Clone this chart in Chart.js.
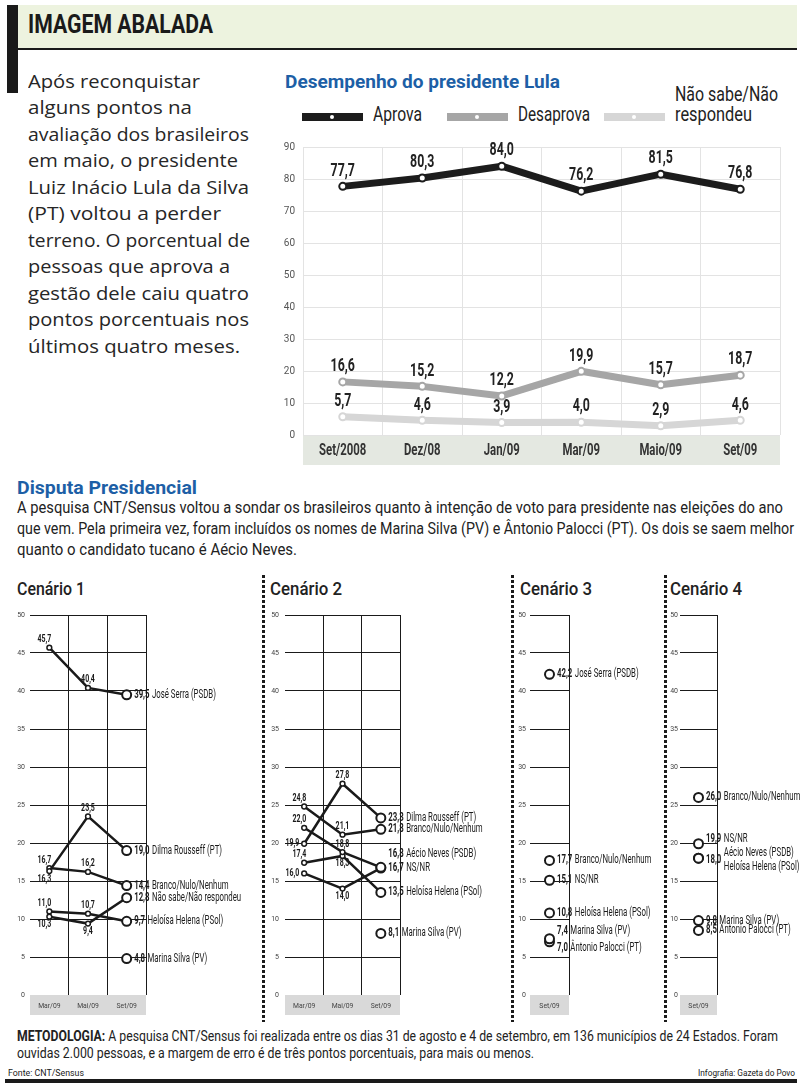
<!DOCTYPE html>
<html lang="pt-BR">
<head>
<meta charset="utf-8">
<title>Imagem abalada</title>
<script src="https://cdn.jsdelivr.net/npm/chart.js@4.4.1/dist/chart.umd.min.js"></script>
<style>
  body {
    margin: 0; width: 802px; height: 1085px; position: relative; overflow: hidden;
    background: #fff; color: #1a1a1a; font-family: Roboto, sans-serif;
  }
  .abs { position: absolute; white-space: nowrap; }
  .fit { display: inline-block; white-space: nowrap; transform-origin: 0 0; }
  .ln { display: block; }
  #header { position: absolute; left: 18px; top: 5px; width: 779px; height: 43px; background: #edf3df; border-bottom: 2px solid #1a1a1a; }
  #bar { left: 7px; top: 5px; width: 11px; height: 88px; background: #1a1a1a; }
  #headTitle { left: 10px; top: 7px; font-size: 25px; line-height: 25px; font-weight: bold; }
  #intro { left: 28px; top: 67.7px; font-family: "Open Sans", sans-serif; font-size: 19px; line-height: 26.5px; color: #262626; }
  .blue { color: #1d5fa6; font-weight: bold; }
  #lulaTitle { left: 285px; top: 72.7px; font-size: 18.5px; line-height: 18.5px; }
  .leg-line { position: absolute; height: 8px; width: 61px; }
  .leg-text { position: absolute; font-size: 19.5px; line-height: 20px; color: #222; }
  .box { position: absolute; }
  #dispTitle { left: 17px; top: 480.3px; font-size: 17.5px; line-height: 17.5px; }
  #dispText { left: 17px; top: 497px; font-size: 16px; line-height: 21px; color: #222; }
  .cen { position: absolute; top: 579px; font-size: 19px; line-height: 19px; font-weight: 500; color: #222; }
  .sep { position: absolute; top: 575px; width: 3px; height: 447px;
         background: repeating-linear-gradient(to bottom, #1a1a1a 0 3px, transparent 3px 5px); }
  #metodo { left: 17px; top: 1028.4px; font-size: 15px; line-height: 17px; color: #222; }
  #fonte { left: 8px; top: 1067.7px; font-size: 9.5px; line-height: 10px; }
  #infog { left: 698px; top: 1067.7px; font-size: 9.5px; line-height: 10px; }
  #rule { left: 5px; top: 1079px; width: 792px; height: 4px; background: #1a1a1a; }
</style>
</head>
<body>

<div id="bar" class="abs"></div>
<div id="header"><div id="headTitle" class="abs"><span class="fit" data-w="185">IMAGEM ABALADA</span></div></div>

<div id="intro" class="abs"></div>

<div id="lulaTitle" class="abs blue"><span class="fit" data-w="275">Desempenho do presidente Lula</span></div>
<div id="legend"></div>

<div class="box" style="left:270px; top:125px; width:520px; height:345px;"><canvas id="lulaChart"></canvas></div>

<div id="dispTitle" class="abs blue"><span class="fit" data-w="180">Disputa Presidencial</span></div>
<div id="dispText" class="abs">
  <span class="ln"><span class="fit" data-w="766">A pesquisa CNT/Sensus voltou a sondar os brasileiros quanto à intenção de voto para presidente nas eleições do ano</span></span>
  <span class="ln"><span class="fit" data-w="777">que vem. Pela primeira vez, foram incluídos os nomes de Marina Silva (PV) e Ântonio Palocci (PT). Os dois se saem melhor</span></span>
  <span class="ln"><span class="fit" data-w="280">quanto o candidato tucano é Aécio Neves.</span></span>
</div>

<div class="cen" style="left:17px;"><span class="fit" data-w="68">Cenário 1</span></div>
<div class="cen" style="left:270px;"><span class="fit" data-w="72">Cenário 2</span></div>
<div class="cen" style="left:520px;"><span class="fit" data-w="72">Cenário 3</span></div>
<div class="cen" style="left:670px;"><span class="fit" data-w="72">Cenário 4</span></div>
<div class="sep" style="left:262px;"></div>
<div class="sep" style="left:511px;"></div>
<div class="sep" style="left:664px;"></div>

<div class="box" style="left:0px; top:600px; width:262px; height:420px;"><canvas id="cen1"></canvas></div>
<div class="box" style="left:264px; top:600px; width:248px; height:420px;"><canvas id="cen2"></canvas></div>
<div class="box" style="left:514px; top:600px; width:150px; height:420px;"><canvas id="cen3"></canvas></div>
<div class="box" style="left:667px; top:600px; width:135px; height:420px;"><canvas id="cen4"></canvas></div>

<div id="metodo" class="abs">
  <span class="ln"><span class="fit" data-w="761"><b>METODOLOGIA:</b> A pesquisa CNT/Sensus foi realizada entre os dias 31 de agosto e 4 de setembro, em 136 municípios de 24 Estados. Foram</span></span>
  <span class="ln"><span class="fit" data-w="517">ouvidas 2.000 pessoas, e a margem de erro é de três pontos porcentuais, para mais ou menos.</span></span>
</div>
<div id="fonte" class="abs"><span class="fit" data-w="76">Fonte: CNT/Sensus</span></div>
<div id="infog" class="abs"><span class="fit" data-w="97">Infografia: Gazeta do Povo</span></div>
<div id="rule" class="abs"></div>

<script>
/* ================= DATA ================= */
const lulaMonths = ["Set/2008", "Dez/08", "Jan/09", "Mar/09", "Maio/09", "Set/09"];
const aprova     = [77.7, 80.3, 84.0, 76.2, 81.5, 76.8];
const desaprova  = [16.6, 15.2, 12.2, 19.9, 15.7, 18.7];
const naoSabe    = [5.7, 4.6, 3.9, 4.0, 2.9, 4.6];
const lulaSeries = ["Aprova", "Desaprova", "Não sabe/Não respondeu"];

const disputaMonths = ["Mar/09", "Mai/09", "Set/09"];
const ultimoMes     = ["Set/09"];

// Cenário 1
const cen1Names = ["José Serra (PSDB)", "Dilma Rousseff (PT)", "Branco/Nulo/Nenhum", "Não sabe/Não respondeu", "Heloísa Helena (PSol)", "Marina Silva (PV)"];
const serra1   = [45.7, 40.4, 39.5];
const dilma1   = [16.3, 23.5, 19.0];
const branco1  = [16.7, 16.2, 14.4];
const nsnr1    = [10.3, 9.4, 12.8];
const heloisa1 = [11.0, 10.7, 9.7];
const marina1  = [null, null, 4.8];

// Cenário 2
const cen2Names = ["Dilma Rousseff (PT)", "Branco/Nulo/Nenhum", "Aécio Neves (PSDB)", "Heloísa Helena (PSol)", "NS/NR", "Marina Silva (PV)"];
const dilma2   = [19.9, 27.8, 23.3];
const branco2  = [24.8, 21.1, 21.8];
const aecio2   = [22.0, 18.8, 16.8];
const heloisa2 = [17.4, 18.3, 13.5];
const nsnr2    = [16.0, 14.0, 16.7];
const marina2  = [null, null, 8.1];

// Cenário 3
const cen3Names  = ["José Serra (PSDB)", "Branco/Nulo/Nenhum", "NS/NR", "Heloísa Helena (PSol)", "Marina Silva (PV)", "Ântonio Palocci (PT)"];
const cen3Values = [42.2, 17.7, 15.1, 10.8, 7.4, 7.0];

// Cenário 4
const cen4Names  = ["Branco/Nulo/Nenhum", "NS/NR", "Aécio Neves (PSDB)", "Heloísa Helena (PSol)", "Marina Silva (PV)", "Antonio Palocci (PT)"];
const cen4Values = [26.0, 19.9, 18.0, 18.0, 9.8, 8.5];

// texto de apoio
const introLines = ["Após reconquistar", "alguns pontos na", "avaliação dos brasileiros", "em maio, o presidente",
  "Luiz Inácio Lula da Silva", "(PT) voltou a perder", "terreno. O porcentual de", "pessoas que aprova a",
  "gestão dele caiu quatro", "pontos porcentuais nos", "últimos quatro meses."];
const introWidths = [172, 164, 221, 210, 221, 193, 222, 202, 221, 221, 212];

/* ================= HELPERS ================= */
const FONT = "Roboto, sans-serif";
const fmt = v => v.toFixed(1).replace(".", ",");

// narrow text: the original uses a condensed face, so squeeze horizontally
function condText(ctx, text, x, y, sx, align) {
  const w = ctx.measureText(text).width * sx;
  const left = align === "center" ? x - w / 2 : align === "right" ? x - w : x;
  ctx.save();
  ctx.translate(left, y);
  ctx.scale(sx, 1);
  ctx.textAlign = "left";
  ctx.fillText(text, 0, 0);
  ctx.restore();
  return w;
}

function fitTexts() {
  document.querySelectorAll(".fit").forEach(el => {
    const k = +el.dataset.w / el.getBoundingClientRect().width;
    el.style.transform = `scaleX(${k})`;
  });
}

// gray band behind the category labels + the labels themselves
const axisBand = {
  id: "axisBand",
  beforeDraw(chart, args, opts) {
    const a = chart.chartArea;
    const x = chart.scales.x;
    chart.ctx.save();
    chart.ctx.fillStyle = opts.color;
    chart.ctx.fillRect(a.left, a.bottom, a.right - a.left, x.bottom - a.bottom);
    chart.ctx.restore();
  },
  afterDraw(chart, args, opts) {
    const ctx = chart.ctx;
    const x = chart.scales.x;
    const y = (chart.chartArea.bottom + x.bottom) / 2 + 1;
    ctx.save();
    ctx.font = opts.font;
    ctx.fillStyle = opts.textColor;
    ctx.textBaseline = "middle";
    chart.data.labels.forEach((lab, i) => condText(ctx, lab, x.getPixelForTick(i), y, opts.sx, "center"));
    ctx.restore();
  }
};

/* ================= TEXT BLOCKS ================= */
function buildIntro() {
  document.getElementById("intro").innerHTML = introLines
    .map((t, i) => `<span class="ln"><span class="fit" data-w="${introWidths[i]}">${t}</span></span>`)
    .join("");
}

function buildLegend() {
  const colors = ["#1c1c1c", "#a6a6a6", "#d6d6d6"];
  const lineX = [302, 447, 604];
  const textX = [373, 518, 675];
  const widths = [[49], [72], [103, 77]];
  const html = lulaSeries.map((name, i) => {
    const lines = i === 2 ? ["Não sabe/Não", "respondeu"] : [name];
    const top = i === 2 ? 85.3 : 105.3;
    const txt = lines.map((t, k) => `<span class="ln"><span class="fit" data-w="${widths[i][k]}">${t}</span></span>`).join("");
    return `<div class="leg-line" style="left:${lineX[i]}px; top:113px; background:${colors[i]}"></div>
            <div class="abs" style="left:${lineX[i] + 28}px; top:115px; width:4px; height:4px; border-radius:50%; background:#fff;"></div>
            <div class="leg-text" style="left:${textX[i]}px; top:${top}px">${txt}</div>`;
  }).join("");
  document.getElementById("legend").innerHTML = html;
}

/* ================= LULA CHART ================= */
function loadLulaChart() {
  const colors = ["#1c1c1c", "#a6a6a6", "#d6d6d6"];
  const series = [aprova, desaprova, naoSabe];

  const valueLabels = {
    id: "valueLabels",
    afterDatasetsDraw(chart) {
      const ctx = chart.ctx;
      ctx.save();
      ctx.font = "bold 19px " + FONT;
      ctx.fillStyle = "#222";
      ctx.textBaseline = "bottom";
      chart.data.datasets.forEach((ds, i) => {
        chart.getDatasetMeta(i).data.forEach((pt, j) => {
          condText(ctx, fmt(ds.data[j]), pt.x, pt.y - 6, 0.65, "center");
        });
      });
      ctx.restore();
    }
  };

  new Chart(document.getElementById("lulaChart"), {
    type: "line",
    data: {
      labels: lulaMonths,
      datasets: series.map((data, i) => ({
        label: lulaSeries[i],
        data,
        borderColor: colors[i],
        borderWidth: 7,
        borderJoinStyle: "round",
        borderCapStyle: "round",
        pointRadius: 3.5,
        pointBorderWidth: 2,
        pointBorderColor: colors[i],
        pointBackgroundColor: "#fff",
        tension: 0
      }))
    },
    options: {
      responsive: true,
      maintainAspectRatio: false,
      animation: false,
      layout: { padding: { top: 22, right: 10, bottom: 5, left: 0 } },
      plugins: {
        legend: { display: false },
        tooltip: { enabled: false },
        axisBand: { color: "#e4e8e1", font: "bold 16px " + FONT, textColor: "#333", sx: 0.71 }
      },
      scales: {
        x: {
          offset: true,
          afterFit: s => { s.height = 30; },
          border: { display: false },
          grid: { offset: true, color: "#e3e3e3", drawTicks: false },
          ticks: { display: false }
        },
        y: {
          min: 0, max: 90,
          afterFit: s => { s.width = 33; },
          border: { display: false },
          grid: { color: "#e3e3e3", drawTicks: false },
          ticks: { stepSize: 10, font: { family: FONT, size: 10 }, color: "#555", padding: 8 }
        }
      }
    },
    plugins: [axisBand, valueLabels]
  });
}

/* ================= SCENARIO CHARTS ================= */
const scenarioLabels = {
  id: "scenarioLabels",
  afterDatasetsDraw(chart) {
    const ctx = chart.ctx;
    ctx.save();
    ctx.fillStyle = "#1a1a1a";
    chart.data.datasets.forEach((ds, i) => {
      const meta = chart.getDatasetMeta(i);
      const last = ds.data.length - 1;
      meta.data.forEach((pt, j) => {
        const v = ds.data[j];
        if (v == null) return;
        if (j < last) {
          const pos = ds.labelPos[j];
          ctx.font = "bold 10px " + FONT;
          let x = pt.x, y = pt.y, align = "center";
          if (pos === "l") { align = "right"; ctx.textBaseline = "middle"; x -= 5; }
          else {
            if (pos.endsWith("l")) { align = "right"; x += 2; }
            ctx.textBaseline = pos.startsWith("b") ? "top" : "bottom";
            y += pos.startsWith("b") ? 3 : -3;
          }
          condText(ctx, fmt(v), x, y, 0.7, align);
        } else {
          const e = ds.end || {};
          const x0 = pt.x + 7.5;
          ctx.textBaseline = "middle";
          ctx.font = "bold 12px " + FONT;
          const w = ctx.measureText(fmt(v)).width * 0.65 + 2.5;
          if (!e.hideValue) condText(ctx, fmt(v), x0, pt.y + (e.dy || 0), 0.65, "left");
          ctx.font = "12px " + FONT;
          condText(ctx, ds.label, x0 + w, pt.y + (e.nameDy !== undefined ? e.nameDy : (e.dy || 0)), 0.65, "left");
        }
      });
    });
    ctx.restore();
  }
};

function loadScenario(id, months, series, box) {
  const n = months.length;
  new Chart(document.getElementById(id), {
    type: "line",
    data: {
      labels: months,
      datasets: series.map(s => ({
        label: s.name,
        data: s.data,
        labelPos: s.pos || [],
        end: s.end,
        borderColor: "#1a1a1a",
        borderWidth: 2.5,
        pointRadius: ctx => ctx.dataIndex === n - 1 ? 4.5 : 2.4,
        pointBorderWidth: ctx => ctx.dataIndex === n - 1 ? 2 : 1.5,
        pointBorderColor: "#1a1a1a",
        pointBackgroundColor: "#fff",
        tension: 0
      }))
    },
    options: {
      responsive: true,
      maintainAspectRatio: false,
      animation: false,
      layout: { padding: { top: 15, right: box.right, bottom: 5, left: 0 } },
      plugins: {
        legend: { display: false },
        tooltip: { enabled: false },
        axisBand: { color: "#d9d9d9", font: "8px " + FONT, textColor: "#444", sx: 0.85 }
      },
      scales: {
        x: {
          offset: true,
          afterFit: s => { s.height = 20; },
          border: { display: false },
          grid: {
            offset: true, drawTicks: false, lineWidth: 1,
            color: ctx => (ctx.index === 0 || ctx.index >= n) ? "rgba(0,0,0,0)" : "#1a1a1a"
          },
          ticks: { display: false }
        },
        y: {
          min: 0, max: 50,
          afterFit: s => { s.width = box.axis; },
          border: { display: false },
          grid: {
            drawTicks: false, lineWidth: 1,
            color: ctx => ctx.tick && ctx.tick.value === 0 ? "rgba(0,0,0,0)" : "#1a1a1a"
          },
          ticks: { stepSize: 5, font: { family: FONT, size: 7 }, color: "#444", padding: box.pad }
        }
      }
    },
    plugins: [axisBand, scenarioLabels]
  });
}

/* ================= INIT ================= */
document.addEventListener("DOMContentLoaded", () => {
  buildIntro();
  buildLegend();
  fitTexts();
  loadLulaChart();

  loadScenario("cen1", disputaMonths, [
    { name: cen1Names[0], data: serra1,   pos: ["al", "a"] },
    { name: cen1Names[1], data: dilma1,   pos: ["bl", "a"] },
    { name: cen1Names[2], data: branco1,  pos: ["al", "a"] },
    { name: cen1Names[3], data: nsnr1,    pos: ["bl", "b"] },
    { name: cen1Names[4], data: heloisa1, pos: ["al", "a"] },
    { name: cen1Names[5], data: marina1 }
  ], { axis: 30, pad: 5, right: 116 });

  loadScenario("cen2", disputaMonths, [
    { name: cen2Names[0], data: dilma2,   pos: ["l", "a"] },
    { name: cen2Names[1], data: branco2,  pos: ["al", "a"] },
    { name: cen2Names[2], data: aecio2,   pos: ["al", "a"], end: { dy: -13 } },
    { name: cen2Names[3], data: heloisa2, pos: ["al", "b"] },
    { name: cen2Names[4], data: nsnr2,    pos: ["l", "b"] },
    { name: cen2Names[5], data: marina2 }
  ], { axis: 21, pad: 6, right: 112 });

  const cen3Ends = [{}, {}, {}, {}, { dy: -8 }, { dy: 6 }];
  loadScenario("cen3", ultimoMes,
    cen3Names.map((name, i) => ({ name, data: [cen3Values[i]], end: cen3Ends[i] })),
    { axis: 16, pad: 4, right: 95 });

  const cen4Ends = [{}, { dy: -5 }, { dy: 2, nameDy: -5 }, { hideValue: true, nameDy: 9 }, {}, {}];
  loadScenario("cen4", ultimoMes,
    cen4Names.map((name, i) => ({ name, data: [cen4Values[i]], end: cen4Ends[i] })),
    { axis: 13, pad: 2, right: 85 });
});
</script>
</body>
</html>
